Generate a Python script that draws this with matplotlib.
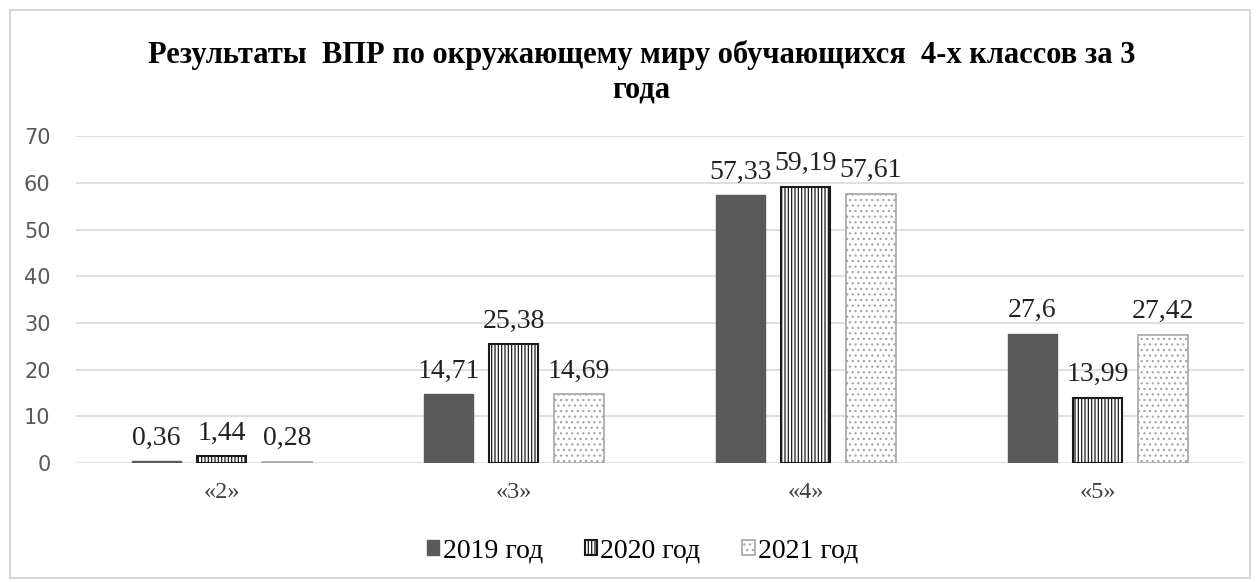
import numpy as np
import matplotlib.pyplot as plt
from matplotlib.patches import Rectangle

# data
categories = ["«2»", "«3»", "«4»", "«5»"]
years = ["2019 год", "2020 год", "2021 год"]
v2019 = [0.36, 14.71, 57.33, 27.6]
v2020 = [1.44, 25.38, 59.19, 13.99]
v2021 = [0.28, 14.69, 57.61, 27.42]

plt.rcParams['hatch.linewidth'] = 0.9
serif = ['Liberation Serif', 'DejaVu Serif']

fig = plt.figure(figsize=(12.6, 5.82), dpi=100)
fig.patches.append(Rectangle((0.008, 0.007), 0.984, 0.976, transform=fig.transFigure,
                             fill=False, edgecolor='#d0d0d0', linewidth=1.2))
ax = fig.add_axes([0.060, 0.2045, 0.927, 0.5615])

x = np.arange(len(categories))
w = 0.17
off = 0.223
styles = [
    dict(color='#595959', edgecolor='#595959'),
    dict(color='white', edgecolor='#1a1a1a', hatch='|||||', linewidth=1.5),
    dict(color='white', edgecolor='#a6a6a6', hatch='...', linewidth=1.2),
]
series = [v2019, v2020, v2021]
for i, (vals, st, lab) in enumerate(zip(series, styles, years)):
    bars = ax.bar(x + (i - 1) * off, vals, w, label=lab, zorder=3, **st)
    for b, v in zip(bars, vals):
        ax.text(b.get_x() + b.get_width() / 2, v + 2.3, f"{v:g}".replace('.', ','),
                ha='center', va='bottom', fontsize=20, family=serif, color='#222222')

ax.set_ylim(0, 70)
ax.set_xlim(-0.5, 3.5)
ax.set_yticks(range(0, 71, 10))
ax.yaxis.grid(True, color='#d9d9d9', linewidth=1.2, zorder=0)
ax.set_axisbelow(True)
for s in ax.spines.values():
    s.set_visible(False)
ax.tick_params(axis='both', length=0)
ax.tick_params(axis='y', labelsize=15, labelcolor='#595959', pad=18)
ax.set_xticks(x)
ax.set_xticklabels(categories, fontsize=17.5, family=serif, color='#404040')
ax.tick_params(axis='x', pad=14)

fig.text(0.509, 0.905, "Результаты  ВПР по окружающему миру обучающихся  4-х классов за 3",
         ha='center', va='center', fontsize=22, fontweight='bold', family=serif)
fig.text(0.509, 0.846, "года", ha='center', va='center', fontsize=22,
         fontweight='bold', family=serif)

leg = fig.legend(loc='center', bbox_to_anchor=(0.51, 0.054), ncol=3, frameon=False,
                 prop={'family': serif, 'size': 20}, handlelength=0.45, handleheight=0.45,
                 handletextpad=0.12, columnspacing=1.5)

fig.savefig("out.png", dpi=100, facecolor='white')
